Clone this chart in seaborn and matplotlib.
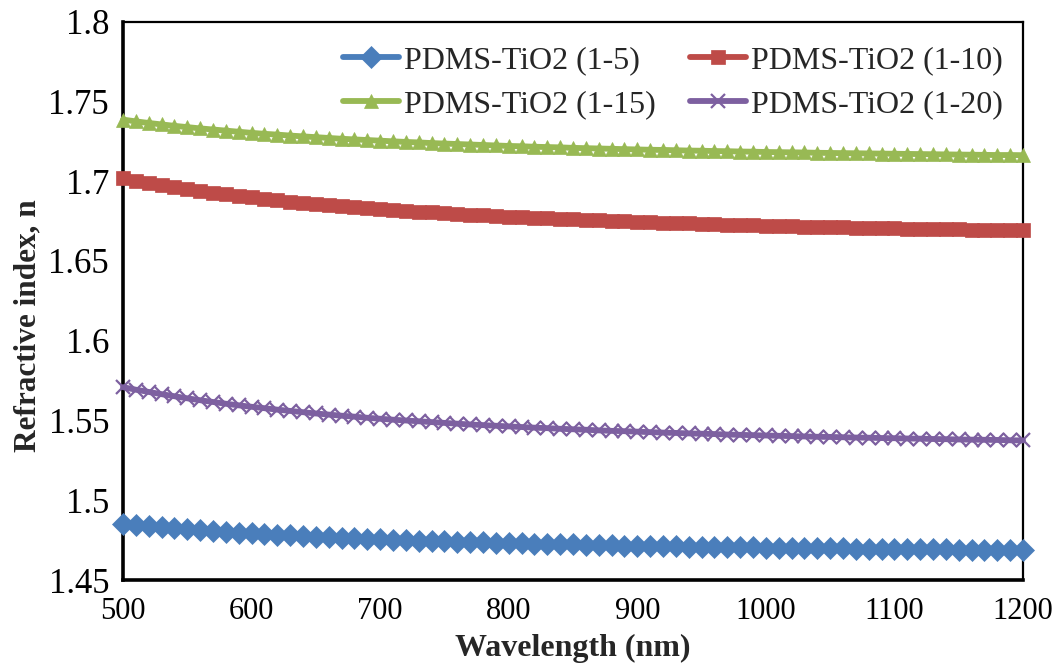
import numpy as np
import pandas as pd
import matplotlib
matplotlib.use("Agg")
import matplotlib.pyplot as plt
import seaborn as sns
from matplotlib.ticker import FixedLocator, FuncFormatter

# Wavelength grid (nm), one sample every 10 nm
wavelength = list(range(500, 1201, 10))

n_1_5 = [
    1.4854, 1.4846, 1.4839, 1.4832, 1.4825, 1.4819, 1.4813, 1.4808, 1.4802, 1.4797,
    1.4793, 1.4788, 1.4784, 1.4780, 1.4776, 1.4772, 1.4768, 1.4765, 1.4762, 1.4758,
    1.4755, 1.4753, 1.4750, 1.4747, 1.4745, 1.4742, 1.4740, 1.4738, 1.4736, 1.4733,
    1.4731, 1.4730, 1.4728, 1.4726, 1.4724, 1.4723, 1.4721, 1.4719, 1.4718, 1.4716,
    1.4715, 1.4714, 1.4712, 1.4711, 1.4710, 1.4709, 1.4707, 1.4706, 1.4705, 1.4704,
    1.4703, 1.4702, 1.4701, 1.4700, 1.4699, 1.4699, 1.4698, 1.4697, 1.4696, 1.4695,
    1.4695, 1.4694, 1.4693, 1.4692, 1.4692, 1.4691, 1.4690, 1.4690, 1.4689, 1.4688,
    1.4688,
]

n_1_10 = [
    1.7019, 1.7003, 1.6989, 1.6975, 1.6962, 1.6950, 1.6938, 1.6927, 1.6917, 1.6907,
    1.6898, 1.6889, 1.6880, 1.6872, 1.6864, 1.6857, 1.6850, 1.6843, 1.6837, 1.6831,
    1.6825, 1.6819, 1.6814, 1.6809, 1.6804, 1.6799, 1.6794, 1.6790, 1.6786, 1.6781,
    1.6778, 1.6774, 1.6770, 1.6767, 1.6763, 1.6760, 1.6757, 1.6754, 1.6751, 1.6748,
    1.6745, 1.6742, 1.6740, 1.6737, 1.6735, 1.6733, 1.6730, 1.6728, 1.6726, 1.6724,
    1.6722, 1.6720, 1.6718, 1.6716, 1.6714, 1.6713, 1.6711, 1.6709, 1.6708, 1.6706,
    1.6705, 1.6703, 1.6702, 1.6700, 1.6699, 1.6698, 1.6697, 1.6695, 1.6694, 1.6693,
    1.6692,
]

n_1_15 = [
    1.7386, 1.7375, 1.7365, 1.7356, 1.7347, 1.7339, 1.7331, 1.7324, 1.7317, 1.7310,
    1.7303, 1.7297, 1.7292, 1.7286, 1.7281, 1.7276, 1.7271, 1.7266, 1.7262, 1.7258,
    1.7254, 1.7250, 1.7246, 1.7243, 1.7239, 1.7236, 1.7233, 1.7230, 1.7227, 1.7224,
    1.7221, 1.7219, 1.7216, 1.7214, 1.7212, 1.7209, 1.7207, 1.7205, 1.7203, 1.7201,
    1.7199, 1.7197, 1.7196, 1.7194, 1.7192, 1.7191, 1.7189, 1.7188, 1.7186, 1.7185,
    1.7183, 1.7182, 1.7181, 1.7180, 1.7178, 1.7177, 1.7176, 1.7175, 1.7174, 1.7173,
    1.7172, 1.7171, 1.7170, 1.7169, 1.7168, 1.7167, 1.7166, 1.7165, 1.7164, 1.7164,
    1.7163,
]

n_1_20 = [
    1.5709, 1.5693, 1.5679, 1.5665, 1.5652, 1.5639, 1.5627, 1.5616, 1.5605, 1.5595,
    1.5586, 1.5577, 1.5568, 1.5560, 1.5552, 1.5544, 1.5537, 1.5530, 1.5524, 1.5517,
    1.5511, 1.5505, 1.5500, 1.5495, 1.5490, 1.5485, 1.5480, 1.5475, 1.5471, 1.5467,
    1.5463, 1.5459, 1.5455, 1.5452, 1.5448, 1.5445, 1.5442, 1.5438, 1.5435, 1.5433,
    1.5430, 1.5427, 1.5424, 1.5422, 1.5419, 1.5417, 1.5415, 1.5412, 1.5410, 1.5408,
    1.5406, 1.5404, 1.5402, 1.5400, 1.5398, 1.5397, 1.5395, 1.5393, 1.5392, 1.5390,
    1.5389, 1.5387, 1.5386, 1.5384, 1.5383, 1.5381, 1.5380, 1.5379, 1.5378, 1.5376,
    1.5375,
]

series_labels = ["PDMS-TiO2 (1-5)", "PDMS-TiO2 (1-10)", "PDMS-TiO2 (1-15)", "PDMS-TiO2 (1-20)"]
x_ticks = [500, 600, 700, 800, 900, 1000, 1100, 1200]
y_ticks = [1.45, 1.5, 1.55, 1.6, 1.65, 1.7, 1.75, 1.8]

sns.set_theme(style="white")
plt.rcParams["font.family"] = ["Liberation Serif", "DejaVu Serif"]

styles = {
    "PDMS-TiO2 (1-5)": dict(color="#4A7EBB", marker="D", ms=11, mew=0.5),
    "PDMS-TiO2 (1-10)": dict(color="#BE4B48", marker="s", ms=10, mew=0.5),
    "PDMS-TiO2 (1-15)": dict(color="#98B954", marker="^", ms=10.5, mew=0.5),
    "PDMS-TiO2 (1-20)": dict(color="#7D60A0", marker="x", ms=10, mew=1.6),
}

df = pd.DataFrame({
    "Wavelength": wavelength * 4,
    "n": n_1_5 + n_1_10 + n_1_15 + n_1_20,
    "Sample": sum([[lab] * len(wavelength) for lab in series_labels], []),
})

fig = plt.figure(figsize=(10.64, 6.67), dpi=100)
ax = fig.add_axes([0.1156, 0.1304, 0.8459, 0.8371])

handles = {}
for lab in series_labels:
    st = styles[lab]
    sub = df[df["Sample"] == lab]
    sns.lineplot(data=sub, x="Wavelength", y="n", ax=ax, color=st["color"],
                 linewidth=4.2, marker=st["marker"], markersize=st["ms"],
                 markeredgecolor=st["color"], markerfacecolor=st["color"],
                 markeredgewidth=st["mew"], label=lab, legend=False,
                 clip_on=False, zorder=3)
    handles[lab] = ax.lines[-1]

ax.set_xlim(500, 1200)
ax.set_ylim(1.45, 1.8)
ax.xaxis.set_major_locator(FixedLocator(x_ticks))
ax.yaxis.set_major_locator(FixedLocator(y_ticks))
ax.yaxis.set_major_formatter(FuncFormatter(lambda v, p: f"{v:g}"))
ax.tick_params(axis="both", direction="in", length=8, width=1.8,
               colors="black")
ax.tick_params(axis="y", labelsize=25, pad=10)
ax.tick_params(axis="x", labelsize=22, pad=12)

for side in ["left", "bottom"]:
    ax.spines[side].set_linewidth(2.6)
    ax.spines[side].set_color("black")
for side in ["top", "right"]:
    ax.spines[side].set_linewidth(1.6)
    ax.spines[side].set_color("black")
    ax.spines[side].set_visible(True)

ax.set_xlabel("Wavelength (nm)", fontsize=23, fontweight="bold", labelpad=6)
ax.set_ylabel("Refractive index, n", fontsize=22.5, fontweight="bold")
ax.yaxis.set_label_coords(-0.090, 0.455)

order = ["PDMS-TiO2 (1-5)", "PDMS-TiO2 (1-15)", "PDMS-TiO2 (1-10)", "PDMS-TiO2 (1-20)"]
leg = ax.legend([handles[k] for k in order], order, ncol=2, loc="upper left",
                bbox_to_anchor=(0.223, 0.991), frameon=False, fontsize=23,
                handlelength=1.75, handletextpad=0.15, columnspacing=1.1,
                labelspacing=0.45, borderaxespad=0.2)

fig.savefig("out.png", dpi=100)
